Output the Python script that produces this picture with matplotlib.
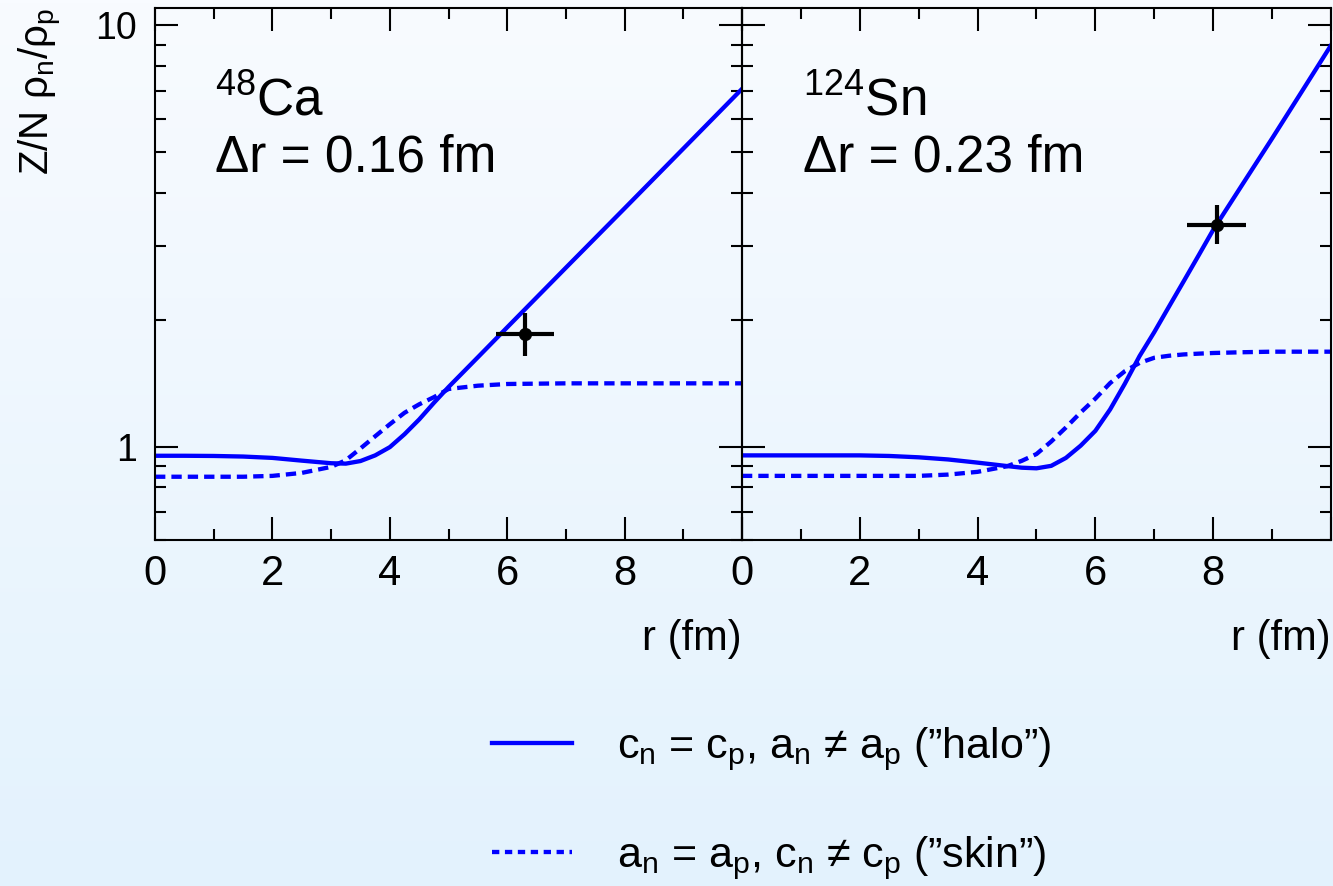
import matplotlib
matplotlib.use("Agg")
import matplotlib.pyplot as plt
import numpy as np
from matplotlib.colors import LinearSegmentedColormap
from matplotlib.lines import Line2D
from matplotlib.ticker import MultipleLocator, LogLocator, NullFormatter

plt.rcParams['font.family'] = ['Liberation Sans', 'DejaVu Sans']
plt.rcParams['mathtext.fontset'] = 'custom'
plt.rcParams['mathtext.rm'] = 'Liberation Sans'
plt.rcParams['mathtext.it'] = 'Liberation Sans:italic'

# 48Ca panel
r_ca = [0, 0.5, 1, 1.5, 2, 2.5, 3, 3.25, 3.5, 3.75, 4, 4.25, 4.5, 4.75, 5, 5.5, 6, 7, 8, 9, 10]
halo_ca = [0.951, 0.951, 0.95, 0.947, 0.94, 0.926, 0.913, 0.911, 0.924, 0.953, 0.997, 1.07, 1.16, 1.27,
           1.385, 1.63, 1.92, 2.66, 3.68, 5.1, 7.07]
skin_ca = [0.848, 0.848, 0.848, 0.848, 0.852, 0.866, 0.895, 0.928, 0.99, 1.058, 1.13, 1.203, 1.26, 1.31,
           1.37, 1.395, 1.408, 1.413, 1.413, 1.413, 1.413]
pt_ca_r, pt_ca_val = [6.3], [1.855]
pt_ca_rerr = [0.5]
pt_ca_verr = [[0.21], [0.217]]

# 124Sn panel
r_sn = [0, 0.5, 1, 1.5, 2, 2.5, 3, 3.5, 4, 4.5, 4.75, 5, 5.25, 5.5, 5.75, 6, 6.25, 6.5, 6.75, 7,
        7.25, 7.5, 7.75, 8, 8.5, 9, 9.5, 10]
halo_sn = [0.953, 0.953, 0.953, 0.953, 0.953, 0.95, 0.943, 0.932, 0.916, 0.899, 0.891, 0.888, 0.9,
           0.94, 1.005, 1.09, 1.225, 1.41, 1.64, 1.87, 2.15, 2.47, 2.84, 3.27, 4.2, 5.39, 6.95, 8.97]
skin_sn = [0.852, 0.852, 0.852, 0.852, 0.852, 0.852, 0.852, 0.858, 0.871, 0.898, 0.925, 0.96, 1.028,
           1.11, 1.205, 1.30, 1.415, 1.51, 1.58, 1.625, 1.643, 1.655, 1.662, 1.668, 1.675, 1.68, 1.68, 1.68]
pt_sn_r, pt_sn_val = [8.06], [3.36]
pt_sn_rerr = [0.5]
pt_sn_verr = [[0.34], [0.385]]

labels = ["$^{48}$Ca", "$^{124}$Sn"]
dr_text = ["Δr = 0.16 fm", "Δr = 0.23 fm"]
xtick_vals = [0, 2, 4, 6, 8, 10]
xtick_labels = ['0', '2', '4', '6', '8', '']

fig = plt.figure(figsize=(13.33, 8.86), dpi=100)

# gradient background
bg = fig.add_axes([0, 0, 1, 1], zorder=-10)
cmap = LinearSegmentedColormap.from_list('bg', ['#e3f2fd', '#f8fbff'])
bg.imshow(np.linspace(0, 1, 256).reshape(-1, 1), aspect='auto', cmap=cmap,
          extent=[0, 1, 0, 1], origin='lower')
bg.axis('off')

ax1 = fig.add_axes([0.1163, 0.3905, 0.4404, 0.6005])
ax2 = fig.add_axes([0.5566, 0.3905, 0.4419, 0.6005])

blue = '#0000ff'
panels = [(ax1, r_ca, halo_ca, skin_ca, pt_ca_r, pt_ca_val, pt_ca_rerr, pt_ca_verr),
          (ax2, r_sn, halo_sn, skin_sn, pt_sn_r, pt_sn_val, pt_sn_rerr, pt_sn_verr)]

for i, (ax, r, halo, skin, pr, pv, prerr, pverr) in enumerate(panels):
    ax.set_facecolor('none')
    ax.plot(r, halo, color=blue, lw=3.1, solid_joinstyle='round')
    ax.plot(r, skin, color=blue, lw=3.1, ls=(0, (2.4, 1.4)))
    ax.errorbar(pr, pv, xerr=prerr, yerr=pverr, fmt='o', color='black', ms=8.5,
                elinewidth=3, capsize=0, zorder=5)
    ax.set_yscale('log')
    ax.set_xlim(0, 10)
    ax.set_ylim(0.6, 11)
    ax.xaxis.set_major_locator(MultipleLocator(2))
    ax.xaxis.set_minor_locator(MultipleLocator(1))
    ax.set_xticks(xtick_vals, xtick_labels)
    ax.yaxis.set_major_locator(LogLocator(base=10, subs=[1.0]))
    ax.yaxis.set_minor_locator(LogLocator(base=10, subs=np.arange(2, 10)))
    ax.yaxis.set_minor_formatter(NullFormatter())
    ax.set_yticks([1, 10], ['1', '10'])
    for s in ax.spines.values():
        s.set_linewidth(1.5)
    ax.tick_params(which='both', direction='in', top=True, right=True, width=1.5)
    ax.tick_params(which='major', length=16.5)
    ax.tick_params(which='minor', length=8)
    ax.tick_params(axis='x', labelsize=30, pad=10)
    ax.tick_params(axis='y', labelsize=27, pad=13)
    ax.set_xlabel('r (fm)', fontsize=30, loc='right', labelpad=18)
    ax.text(0.103, 0.799, labels[i], transform=ax.transAxes, fontsize=37, va='baseline')
    ax.text(0.103, 0.692, dr_text[i], transform=ax.transAxes, fontsize=37, va='baseline')

ax2.tick_params(axis='y', labelleft=False)
ax1.set_ylabel('Z/N ρ$_\\mathrm{n}$/ρ$_\\mathrm{p}$', fontsize=29, loc='top')
ax1.yaxis.set_label_coords(-0.155, 1.0)

handles = [Line2D([], [], color=blue, lw=3.1),
           Line2D([], [], color=blue, lw=3.1, ls=(0, (1.7, 1.3)))]
leg_labels = ['c$_\\mathrm{n}$ = c$_\\mathrm{p}$, a$_\\mathrm{n}$ ≠ a$_\\mathrm{p}$ (”halo”)',
              'a$_\\mathrm{n}$ = a$_\\mathrm{p}$, c$_\\mathrm{n}$ ≠ c$_\\mathrm{p}$ (”skin”)']
fig.legend(handles, leg_labels, loc='upper left', bbox_to_anchor=(0.3563, 0.2005),
           frameon=False, fontsize=31, handlelength=1.86, handletextpad=1.05,
           labelspacing=1.43, borderaxespad=0)

fig.savefig('out.png', dpi=100)
